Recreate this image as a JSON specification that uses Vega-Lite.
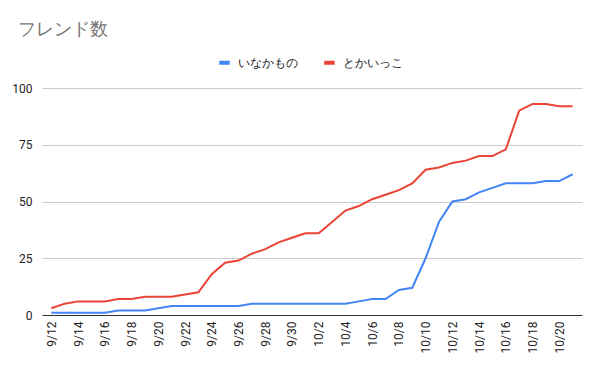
{
  "$schema": "https://vega.github.io/schema/vega-lite/v6.json",
  "width": 540,
  "height": 227,
  "autosize": {"type": "none"},
  "padding": {"left": 42, "top": 88, "right": 18, "bottom": 56},
  "background": "white",
  "title": {
    "text": "フレンド数",
    "anchor": "start",
    "frame": "group",
    "dx": -24,
    "offset": 16,
    "fontSize": 18,
    "font": "Roboto",
    "fontWeight": "normal",
    "color": "#757575"
  },
  "data": {
    "values": [
      {"i": 0, "date": "9/12", "s": "いなかもの", "v": 1}, {"i": 0, "date": "9/12", "s": "とかいっこ", "v": 3},
      {"i": 1, "date": "9/13", "s": "いなかもの", "v": 1}, {"i": 1, "date": "9/13", "s": "とかいっこ", "v": 5},
      {"i": 2, "date": "9/14", "s": "いなかもの", "v": 1}, {"i": 2, "date": "9/14", "s": "とかいっこ", "v": 6},
      {"i": 3, "date": "9/15", "s": "いなかもの", "v": 1}, {"i": 3, "date": "9/15", "s": "とかいっこ", "v": 6},
      {"i": 4, "date": "9/16", "s": "いなかもの", "v": 1}, {"i": 4, "date": "9/16", "s": "とかいっこ", "v": 6},
      {"i": 5, "date": "9/17", "s": "いなかもの", "v": 2}, {"i": 5, "date": "9/17", "s": "とかいっこ", "v": 7},
      {"i": 6, "date": "9/18", "s": "いなかもの", "v": 2}, {"i": 6, "date": "9/18", "s": "とかいっこ", "v": 7},
      {"i": 7, "date": "9/19", "s": "いなかもの", "v": 2}, {"i": 7, "date": "9/19", "s": "とかいっこ", "v": 8},
      {"i": 8, "date": "9/20", "s": "いなかもの", "v": 3}, {"i": 8, "date": "9/20", "s": "とかいっこ", "v": 8},
      {"i": 9, "date": "9/21", "s": "いなかもの", "v": 4}, {"i": 9, "date": "9/21", "s": "とかいっこ", "v": 8},
      {"i": 10, "date": "9/22", "s": "いなかもの", "v": 4}, {"i": 10, "date": "9/22", "s": "とかいっこ", "v": 9},
      {"i": 11, "date": "9/23", "s": "いなかもの", "v": 4}, {"i": 11, "date": "9/23", "s": "とかいっこ", "v": 10},
      {"i": 12, "date": "9/24", "s": "いなかもの", "v": 4}, {"i": 12, "date": "9/24", "s": "とかいっこ", "v": 18},
      {"i": 13, "date": "9/25", "s": "いなかもの", "v": 4}, {"i": 13, "date": "9/25", "s": "とかいっこ", "v": 23},
      {"i": 14, "date": "9/26", "s": "いなかもの", "v": 4}, {"i": 14, "date": "9/26", "s": "とかいっこ", "v": 24},
      {"i": 15, "date": "9/27", "s": "いなかもの", "v": 5}, {"i": 15, "date": "9/27", "s": "とかいっこ", "v": 27},
      {"i": 16, "date": "9/28", "s": "いなかもの", "v": 5}, {"i": 16, "date": "9/28", "s": "とかいっこ", "v": 29},
      {"i": 17, "date": "9/29", "s": "いなかもの", "v": 5}, {"i": 17, "date": "9/29", "s": "とかいっこ", "v": 32},
      {"i": 18, "date": "9/30", "s": "いなかもの", "v": 5}, {"i": 18, "date": "9/30", "s": "とかいっこ", "v": 34},
      {"i": 19, "date": "10/1", "s": "いなかもの", "v": 5}, {"i": 19, "date": "10/1", "s": "とかいっこ", "v": 36},
      {"i": 20, "date": "10/2", "s": "いなかもの", "v": 5}, {"i": 20, "date": "10/2", "s": "とかいっこ", "v": 36},
      {"i": 21, "date": "10/3", "s": "いなかもの", "v": 5}, {"i": 21, "date": "10/3", "s": "とかいっこ", "v": 41},
      {"i": 22, "date": "10/4", "s": "いなかもの", "v": 5}, {"i": 22, "date": "10/4", "s": "とかいっこ", "v": 46},
      {"i": 23, "date": "10/5", "s": "いなかもの", "v": 6}, {"i": 23, "date": "10/5", "s": "とかいっこ", "v": 48},
      {"i": 24, "date": "10/6", "s": "いなかもの", "v": 7}, {"i": 24, "date": "10/6", "s": "とかいっこ", "v": 51},
      {"i": 25, "date": "10/7", "s": "いなかもの", "v": 7}, {"i": 25, "date": "10/7", "s": "とかいっこ", "v": 53},
      {"i": 26, "date": "10/8", "s": "いなかもの", "v": 11}, {"i": 26, "date": "10/8", "s": "とかいっこ", "v": 55},
      {"i": 27, "date": "10/9", "s": "いなかもの", "v": 12}, {"i": 27, "date": "10/9", "s": "とかいっこ", "v": 58},
      {"i": 28, "date": "10/10", "s": "いなかもの", "v": 25}, {"i": 28, "date": "10/10", "s": "とかいっこ", "v": 64},
      {"i": 29, "date": "10/11", "s": "いなかもの", "v": 41}, {"i": 29, "date": "10/11", "s": "とかいっこ", "v": 65},
      {"i": 30, "date": "10/12", "s": "いなかもの", "v": 50}, {"i": 30, "date": "10/12", "s": "とかいっこ", "v": 67},
      {"i": 31, "date": "10/13", "s": "いなかもの", "v": 51}, {"i": 31, "date": "10/13", "s": "とかいっこ", "v": 68},
      {"i": 32, "date": "10/14", "s": "いなかもの", "v": 54}, {"i": 32, "date": "10/14", "s": "とかいっこ", "v": 70},
      {"i": 33, "date": "10/15", "s": "いなかもの", "v": 56}, {"i": 33, "date": "10/15", "s": "とかいっこ", "v": 70},
      {"i": 34, "date": "10/16", "s": "いなかもの", "v": 58}, {"i": 34, "date": "10/16", "s": "とかいっこ", "v": 73},
      {"i": 35, "date": "10/17", "s": "いなかもの", "v": 58}, {"i": 35, "date": "10/17", "s": "とかいっこ", "v": 90},
      {"i": 36, "date": "10/18", "s": "いなかもの", "v": 58}, {"i": 36, "date": "10/18", "s": "とかいっこ", "v": 93},
      {"i": 37, "date": "10/19", "s": "いなかもの", "v": 59}, {"i": 37, "date": "10/19", "s": "とかいっこ", "v": 93},
      {"i": 38, "date": "10/20", "s": "いなかもの", "v": 59}, {"i": 38, "date": "10/20", "s": "とかいっこ", "v": 92},
      {"i": 39, "date": "10/21", "s": "いなかもの", "v": 62}, {"i": 39, "date": "10/21", "s": "とかいっこ", "v": 92}
    ]
  },
  "mark": {"type": "line", "strokeWidth": 2, "interpolate": "linear"},
  "encoding": {
    "x": {
      "field": "date",
      "type": "ordinal",
      "sort": {"field": "i"},
      "scale": {"type": "point", "padding": 0.7},
      "axis": {
        "title": null,
        "values": ["9/12","9/14","9/16","9/18","9/20","9/22","9/24","9/26","9/28","9/30","10/2","10/4","10/6","10/8","10/10","10/12","10/14","10/16","10/18","10/20"],
        "labelAngle": 270,
        "labelFont": "Roboto",
        "labelFontSize": 12,
        "labelColor": "#222222",
        "labelPadding": 6,
        "ticks": false,
        "grid": false,
        "domain": true,
        "domainColor": "#333333",
        "domainWidth": 1
      }
    },
    "y": {
      "field": "v",
      "type": "quantitative",
      "scale": {"domain": [0, 100], "nice": false},
      "axis": {
        "title": null,
        "values": [0, 25, 50, 75, 100],
        "labelFont": "Roboto",
        "labelFontSize": 12,
        "labelColor": "#222222",
        "labelPadding": 10,
        "ticks": false,
        "domain": false,
        "grid": true,
        "gridColor": "#cccccc"
      }
    },
    "color": {
      "field": "s",
      "type": "nominal",
      "sort": ["いなかもの", "とかいっこ"],
      "scale": {"domain": ["いなかもの", "とかいっこ"], "range": ["#4285F4", "#EA4335"]},
      "legend": {
        "title": null,
        "orient": "none",
        "direction": "horizontal",
        "legendX": 175,
        "legendY": -33,
        "symbolType": "stroke",
        "symbolSize": 110,
        "symbolStrokeWidth": 4,
        "labelFont": "Roboto",
        "labelFontSize": 12,
        "labelColor": "#222222",
        "columnPadding": 18,
        "labelOffset": 6
      }
    }
  },
  "config": {
    "view": {"stroke": null}
  }
}
